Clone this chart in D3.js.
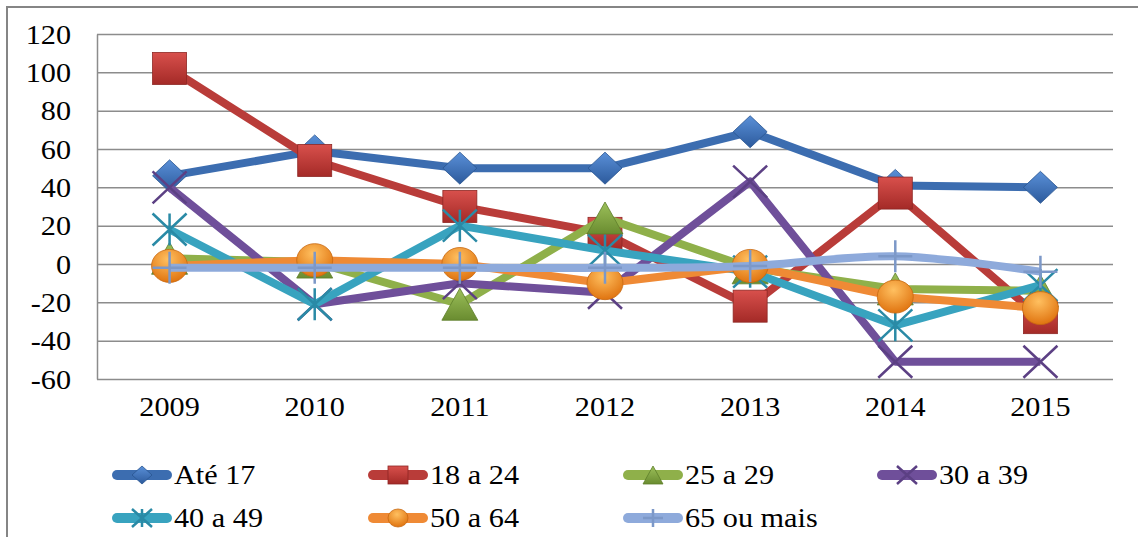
<!DOCTYPE html>
<html>
<head>
<meta charset="utf-8">
<script src="https://cdn.jsdelivr.net/npm/d3@7"></script>
<style>
  body { margin: 0; background: #fff; }
  svg text { font-family: "Liberation Serif", "DejaVu Serif", "Times New Roman", serif !important; }
</style>
</head>
<body>
<div id="chart"></div>
<script>

// data
var years = ["2009", "2010", "2011", "2012", "2013", "2014", "2015"];
var seriesNames = ["Até 17", "18 a 24", "25 a 29", "30 a 39", "40 a 49", "50 a 64", "65 ou mais"];
var ate17 = [46, 59, 50, 50, 69, 41, 40];
var s18a24 = [102, 54, 30, 16, -22, 37, -28];
var s25a29 = [3, 1, -21, 24, -2, -13, -14];
var s30a39 = [40, -21, -10, -15, 43, -51, -51];
var s40a49 = [18, -21, 20, 7, -4, -32, -11];
var s50a64 = [-1, 2, 0, -10, -1, -17, -23];
var s65mais = [-2, -2, -2, -2, -1, 4, -4];
var yTicks = [-60, -40, -20, 0, 20, 40, 60, 80, 100, 120];

var allValues = [ate17, s18a24, s25a29, s30a39, s40a49, s50a64, s65mais];
var colors = ["#3c6db0", "#b93c39", "#8fb04a", "#6f4f9a", "#38a3bf", "#ef8a35", "#8eaadb"];
var markerFill = [["#5a90d8", "#2c5a9c"], ["#d8504c", "#a42a27"], ["#9cc05a", "#6a8c30"],
                  ["#7d5fa8", "#5c4084"], ["#50b8d2", "#2a8aa6"], ["#ffc060", "#e07410"], ["#a8c0e6", "#7c98c8"]];
var shapes = ["diamond", "square", "triangle", "x", "star", "circle", "plus"];

var W = 1138, H = 537;
var margin = { top: 34, right: 25, bottom: 158, left: 97 };
var width = W - margin.left - margin.right,
    height = H - margin.top - margin.bottom;

var svg = d3.select("#chart").append("svg")
    .attr("width", W)
    .attr("height", H);

// gradients for the glossy markers
var defs = svg.append("defs");
markerFill.forEach(function (c, i) {
    var g;
    if (shapes[i] == "circle") {
        g = defs.append("radialGradient").attr("id", "grad" + i)
            .attr("cx", "45%").attr("cy", "30%").attr("r", "70%");
    } else {
        g = defs.append("linearGradient").attr("id", "grad" + i)
            .attr("x1", 0).attr("y1", 0).attr("x2", 0).attr("y2", 1);
    }
    g.append("stop").attr("offset", "0%").attr("stop-color", c[0]);
    g.append("stop").attr("offset", "100%").attr("stop-color", c[1]);
});

// outer frame
svg.append("rect")
    .attr("x", 7).attr("y", 7)
    .attr("width", W + 10).attr("height", H + 10)
    .attr("fill", "none")
    .attr("stroke", "#858585")
    .attr("stroke-width", 2);

var g = svg.append("g")
    .attr("transform", "translate(" + margin.left + "," + margin.top + ")");

var x = d3.scaleBand().domain(years).range([0, width]).padding(0);
var y = d3.scaleLinear().domain([-60, 120]).range([height, 0]);
function cx(i) { return x(years[i]) + x.bandwidth() / 2; }

// gridlines
g.append("g")
    .call(d3.axisLeft(y).tickValues(yTicks).tickSize(-width).tickFormat(""))
    .call(function (s) {
        s.select(".domain").remove();
        s.selectAll("line").attr("stroke", "#8c8c8c").attr("stroke-width", 1.5);
    });

// y axis
g.append("g")
    .call(d3.axisLeft(y).tickValues(yTicks).tickSize(0).tickPadding(0)
        .tickFormat(function (d) { return String(d); }))
    .attr("font-family", null)
    .call(function (s) {
        s.select(".domain").attr("stroke", "#8c8c8c").attr("stroke-width", 1.5);
        s.selectAll("text")
            .attr("x", 0).attr("dy", "0.34em")
            .attr("transform", "translate(-26,0) scale(1.12,1)")
            .attr("font-size", 27).attr("fill", "#000");
    });

// x axis
g.append("g")
    .attr("transform", "translate(0," + height + ")")
    .call(d3.axisBottom(x).tickSize(0).tickPadding(18))
    .attr("font-family", null)
    .call(function (s) {
        s.select(".domain").remove();
        s.selectAll("text")
            .attr("transform", "scale(1.12,1)")
            .attr("font-size", 27).attr("fill", "#000");
    });

function drawMarker(sel, shape, i, sx, sy) {
    var fill = "url(#grad" + i + ")";
    if (shape == "diamond") {
        sel.append("path").attr("d", "M0," + (-sy) + "L" + sx + ",0L0," + sy + "L" + (-sx) + ",0Z")
            .attr("fill", fill).attr("stroke", "#2a5590").attr("stroke-width", 0.8);
    } else if (shape == "square") {
        sel.append("rect").attr("x", -sx).attr("y", -sy).attr("width", 2 * sx).attr("height", 2 * sy)
            .attr("fill", fill).attr("stroke", "#8e2724").attr("stroke-width", 0.8);
    } else if (shape == "triangle") {
        sel.append("path").attr("d", "M0," + (-sy) + "L" + sx + "," + sy + "L" + (-sx) + "," + sy + "Z")
            .attr("fill", fill).attr("stroke", "#5d7e2a").attr("stroke-width", 0.8);
    } else if (shape == "circle") {
        sel.append("ellipse").attr("rx", sx).attr("ry", sy)
            .attr("fill", fill).attr("stroke", "#c86810").attr("stroke-width", 0.8);
    } else {
        var p = "";
        if (shape == "x" || shape == "star")
            p += "M" + (-sx) + "," + (-sy) + "L" + sx + "," + sy + "M" + sx + "," + (-sy) + "L" + (-sx) + "," + sy;
        if (shape == "star" || shape == "plus")
            p += "M0," + (-sy) + "L0," + sy;
        if (shape == "plus")
            p += "M" + (-sx) + ",0L" + sx + ",0";
        sel.append("path").attr("d", p).attr("fill", "none")
            .attr("stroke", markerFill[i][1]).attr("stroke-width", 2.5);
    }
}

// series, each line with its markers, in order
allValues.forEach(function (vals, i) {
    var sg = g.append("g");
    var line = d3.line()
        .x(function (d, j) { return cx(j); })
        .y(function (d) { return y(d); })
        .curve(i == 6 ? d3.curveCatmullRom : d3.curveLinear);
    sg.append("path")
        .datum(vals)
        .attr("d", line)
        .attr("fill", "none")
        .attr("stroke", colors[i])
        .attr("stroke-width", 8)
        .attr("stroke-linejoin", "round");
    vals.forEach(function (v, j) {
        var m = sg.append("g").attr("transform", "translate(" + cx(j) + "," + y(v) + ")");
        var sz = { diamond: [17, 16], square: [17, 16], triangle: [18, 16], circle: [18, 16.5], x: [17, 16], star: [17, 16], plus: [17, 16] }[shapes[i]];
        drawMarker(m, shapes[i], i, sz[0], sz[1]);
    });
});

// legend
var legX = [112, 368, 623, 877];
var legY = [475, 518];
seriesNames.forEach(function (name, i) {
    var lx = legX[i % 4], ly = legY[Math.floor(i / 4)];
    var lg = svg.append("g").attr("transform", "translate(" + lx + "," + ly + ")");
    lg.append("line")
        .attr("x1", 5).attr("x2", 55).attr("y1", 0).attr("y2", 0)
        .attr("stroke", colors[i]).attr("stroke-width", 10)
        .attr("stroke-linecap", "round");
    var m = lg.append("g").attr("transform", "translate(30,0)");
    drawMarker(m, shapes[i], i, 10, 9);
    lg.append("text")
        .attr("x", 0).attr("y", 0).attr("dy", "0.34em")
        .attr("transform", "translate(62,0) scale(1.12,1)")
        .attr("font-size", 27).attr("fill", "#000")
        .text(name);
});

</script>
</body>
</html>
